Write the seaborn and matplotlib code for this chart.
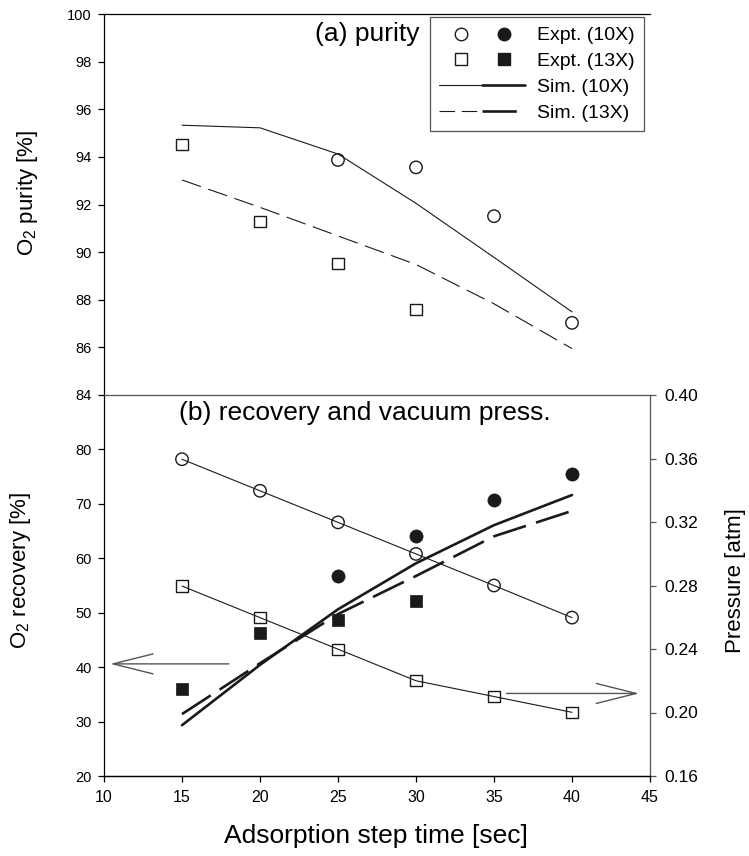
import matplotlib
matplotlib.use("Agg")
import matplotlib.pyplot as plt
import seaborn as sns
import pandas as pd
from matplotlib.lines import Line2D
from matplotlib.legend_handler import HandlerTuple

# ---------------- data ----------------
time = [15, 20, 25, 30, 35, 40]

purity_10x_expt_t = [25, 30, 35, 40]
purity_10x_expt = [93.87, 93.56, 91.51, 87.03]
purity_13x_expt_t = [15, 20, 25, 30]
purity_13x_expt = [94.52, 91.30, 89.52, 87.60]
purity_10x_sim = [95.33, 95.22, 94.12, 92.05, 89.78, 87.49]
purity_13x_sim = [93.03, 91.88, 90.68, 89.48, 87.83, 85.95]

recovery_10x = [78.2, 72.4, 66.6, 60.8, 55.0, 49.1]
recovery_13x = [54.9, 49.1, 43.3, 37.5, 34.6, 31.7]

pressure_10x_expt_t = [25, 30, 35, 40]
pressure_10x_expt = [0.286, 0.311, 0.334, 0.350]
pressure_13x_expt_t = [15, 20, 25, 30]
pressure_13x_expt = [0.215, 0.250, 0.258, 0.270]
pressure_10x_sim = [0.192, 0.230, 0.265, 0.294, 0.318, 0.337]
pressure_13x_sim = [0.199, 0.231, 0.262, 0.286, 0.311, 0.327]

pressure_ticks = [0.16, 0.20, 0.24, 0.28, 0.32, 0.36, 0.40]
legend_labels = ["Expt. (10X)", "Expt. (13X)", "Sim. (10X)", "Sim. (13X)"]

# ---------------- style ----------------
sns.set_theme(style="ticks")
plt.rcParams["font.family"] = ["Liberation Sans", "DejaVu Sans"]
plt.rcParams["mathtext.fontset"] = "custom"
plt.rcParams["mathtext.rm"] = "Liberation Sans"
plt.rcParams["mathtext.it"] = "Liberation Sans:italic"
plt.rcParams["mathtext.bf"] = "Liberation Sans:bold"
for key in ["text.color", "axes.labelcolor", "xtick.color", "ytick.color",
            "axes.edgecolor"]:
    plt.rcParams[key] = "black"
plt.rcParams["axes.linewidth"] = 0.9
plt.rcParams["xtick.direction"] = "out"
plt.rcParams["ytick.direction"] = "out"

GRAY = "#555555"
THIN = 0.8
THICK = 1.9
DASH_THIN = (0, (18, 7))
DASH_THICK = (0, (13, 4))
MS_C = 80
MS_S = 64

fig = plt.figure(figsize=(7.49, 8.56), dpi=100)
L, W = 104 / 749, 546 / 749
ax1 = fig.add_axes([L, 1 - 395 / 856, W, 381 / 856])
ax2 = fig.add_axes([L, 1 - 776 / 856, W, 381 / 856])
ax3 = ax2.twinx()

# ---------------- top panel: purity ----------------
df_sim = pd.DataFrame({"t": time, "p10": purity_10x_sim, "p13": purity_13x_sim})
sns.lineplot(data=df_sim, x="t", y="p10", ax=ax1, color="k", lw=THIN,
             estimator=None, sort=False)
sns.lineplot(data=df_sim, x="t", y="p13", ax=ax1, color="k", lw=THIN,
             estimator=None, sort=False, linestyle=DASH_THIN)
sns.scatterplot(x=purity_10x_expt_t, y=purity_10x_expt, ax=ax1, marker="o",
                s=MS_C, facecolor="none", edgecolor="k", linewidth=1, zorder=5)
sns.scatterplot(x=purity_13x_expt_t, y=purity_13x_expt, ax=ax1, marker="s",
                s=MS_S, facecolor="none", edgecolor="k", linewidth=1, zorder=5)

ax1.set_xlim(10, 45)
ax1.set_ylim(84, 100)
ax1.set_yticks(range(84, 101, 2))
ax1.set_xticks([])
ax1.set_xlabel("")
ax1.set_ylabel("O$_2$ purity [%]", fontsize=16)
ax1.yaxis.set_label_coords(-0.117, 0.53)
ax1.spines["right"].set_visible(False)
ax1.spines["bottom"].set_visible(False)
ax1.tick_params(axis="y", labelsize=10.5, length=4, width=0.9, pad=5)
ax1.text(0.482, 0.9475, "(a) purity", transform=ax1.transAxes,
         ha="center", va="center", fontsize=19)

handles = [
    (Line2D([], [], marker="o", ls="none", mfc="none", mec="k", ms=9, mew=1),
     Line2D([], [], marker="o", ls="none", mfc="k", mec="k", ms=9)),
    (Line2D([], [], marker="s", ls="none", mfc="none", mec="k", ms=8, mew=1),
     Line2D([], [], marker="s", ls="none", mfc="k", mec="k", ms=8)),
    (Line2D([], [], color="k", lw=THIN), Line2D([], [], color="k", lw=THICK)),
    (Line2D([], [], color="k", lw=THIN, ls=(0, (14, 6))),
     Line2D([], [], color="k", lw=THICK, ls=(0, (13, 4)))),
]
leg = ax1.legend(handles, legend_labels,
                 handler_map={tuple: HandlerTuple(ndivide=None, pad=0)},
                 loc="upper right", bbox_to_anchor=(0.989, 0.992),
                 bbox_transform=ax1.transAxes, borderaxespad=0,
                 fontsize=14, frameon=True, fancybox=False,
                 edgecolor=GRAY, framealpha=1, handlelength=4.4,
                 handletextpad=0.6, labelspacing=0.42, borderpad=0.5)
leg.get_frame().set_linewidth(0.9)

# ---------------- bottom panel: recovery + pressure ----------------
df_rec = pd.DataFrame({"t": time, "r10": recovery_10x, "r13": recovery_13x})
sns.lineplot(data=df_rec, x="t", y="r10", ax=ax2, color="k", lw=THIN,
             estimator=None, sort=False)
sns.lineplot(data=df_rec, x="t", y="r13", ax=ax2, color="k", lw=THIN,
             estimator=None, sort=False)
sns.scatterplot(data=df_rec, x="t", y="r10", ax=ax2, marker="o", s=MS_C,
                facecolor="none", edgecolor="k", linewidth=1, zorder=5)
sns.scatterplot(data=df_rec, x="t", y="r13", ax=ax2, marker="s", s=MS_S,
                facecolor="none", edgecolor="k", linewidth=1, zorder=5)

ax2.set_xlim(10, 45)
ax2.set_ylim(20, 90)
ax2.set_yticks(range(20, 81, 10))
ax2.set_xticks(range(10, 46, 5))
ax2.set_xlabel("Adsorption step time [sec]", fontsize=19)
ax2.xaxis.set_label_coords(0.498, -0.125)
ax2.set_ylabel("O$_2$ recovery [%]", fontsize=16)
ax2.yaxis.set_label_coords(-0.13, 0.54)
ax2.spines["top"].set_color(GRAY)
ax2.spines["right"].set_visible(False)
ax2.tick_params(axis="y", labelsize=10.5, length=4, width=0.9, pad=5)
ax2.tick_params(axis="x", labelsize=11.5, length=4, width=0.9, pad=6)

df_pr = pd.DataFrame({"t": time, "s10": pressure_10x_sim, "s13": pressure_13x_sim})
sns.lineplot(data=df_pr, x="t", y="s10", ax=ax3, color="k", lw=THICK,
             estimator=None, sort=False)
sns.lineplot(data=df_pr, x="t", y="s13", ax=ax3, color="k", lw=THICK,
             estimator=None, sort=False, linestyle=DASH_THICK)
sns.scatterplot(x=pressure_10x_expt_t, y=pressure_10x_expt, ax=ax3, marker="o",
                s=MS_C + 10, color="k", edgecolor="k", linewidth=0.5, zorder=5)
sns.scatterplot(x=pressure_13x_expt_t, y=pressure_13x_expt, ax=ax3, marker="s",
                s=MS_S + 10, color="k", edgecolor="k", linewidth=0.5, zorder=5)

ax3.set_ylim(0.16, 0.40)
ax3.set_yticks(pressure_ticks)
ax3.set_yticklabels([f"{v:.2f}" for v in pressure_ticks])
ax3.set_ylabel("Pressure [atm]", fontsize=16, rotation=90)
ax3.yaxis.set_label_coords(1.138, 0.514)
ax3.spines["top"].set_visible(False)
ax3.spines["left"].set_visible(False)
ax3.spines["right"].set_color(GRAY)
ax3.tick_params(axis="y", labelsize=12.5, length=4, width=0.9, pad=6, color=GRAY)
ax3.set_xlabel("")

ax2.text(0.478, 0.953, "(b) recovery and vacuum press.", transform=ax2.transAxes,
         ha="center", va="center", fontsize=19)

arrow_kw = dict(arrowstyle="->,head_length=2.4,head_width=0.6", color=GRAY,
                lw=1.0, shrinkA=0, shrinkB=0)
ax2.annotate("", xy=(10.4, 40.6), xytext=(18.0, 40.6), arrowprops=arrow_kw)
ax3.annotate("", xy=(44.3, 0.212), xytext=(35.8, 0.212), arrowprops=arrow_kw)

fig.savefig("out.png", dpi=100)
